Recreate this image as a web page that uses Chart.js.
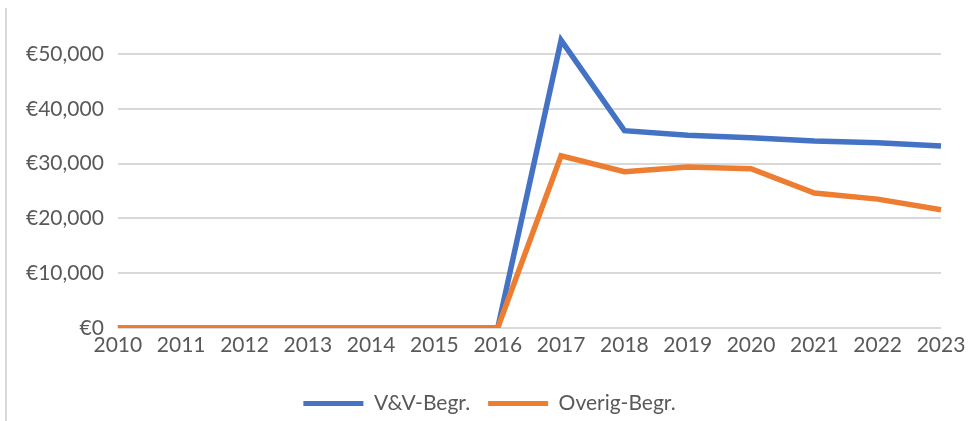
<!DOCTYPE html>
<html>
<head>
<meta charset="utf-8">
<script src="https://cdn.jsdelivr.net/npm/chart.js@4"></script>
<style>
    body { margin: 0; background: #fff; }
    #wrap { position: relative; width: 975px; height: 421px; }
    #frame { position: absolute; left: 5px; top: 8px; bottom: 0; border-left: 2px solid #d9d9d9; }
</style>
</head>
<body>
<div id="wrap">
    <div id="frame"></div>
    <canvas id="chart" width="975" height="421"></canvas>
</div>
<script>
// --- DATA ---
const years = ['2010', '2011', '2012', '2013', '2014', '2015', '2016', '2017', '2018', '2019', '2020', '2021', '2022', '2023'];
const vvBegr = [0, 0, 0, 0, 0, 0, 0, 52500, 36000, 35150, 34700, 34100, 33800, 33200];
const overigBegr = [0, 0, 0, 0, 0, 0, 0, 31400, 28500, 29350, 29050, 24600, 23500, 21550];
const yTicks = [0, 10000, 20000, 30000, 40000, 50000];

const textColor = '#595959';
const gridColor = '#d9d9d9';
const fontSpec = { family: 'Lato', size: 21 };

const defaultLabels = Chart.defaults.plugins.legend.labels.generateLabels;

// nudge the legend to where the original has it
const legendShift = {
    id: 'legendShift',
    afterLayout(chart) {
        const lg = chart.legend;
        lg.left += 13; lg.right += 13;
        lg.top += 20; lg.bottom += 20;
    }
};

const ctx = document.getElementById('chart').getContext('2d');
new Chart(ctx, {
    type: 'line',
    data: {
        labels: years,
        datasets: [
            {
                label: 'V&V-Begr.',
                data: vvBegr,
                borderColor: '#4472c4',
                backgroundColor: '#4472c4',
                borderWidth: 5.5,
                pointRadius: 0,
                tension: 0,
                order: 2
            },
            {
                label: 'Overig-Begr.',
                data: overigBegr,
                borderColor: '#ed7d31',
                backgroundColor: '#ed7d31',
                borderWidth: 5.5,
                pointRadius: 0,
                tension: 0,
                order: 1
            }
        ]
    },
    options: {
        responsive: false,
        animation: false,
        layout: { padding: { left: 12, right: 34, top: 26, bottom: 17 } },
        scales: {
            x: {
                offset: false,
                grid: { display: false },
                border: { display: false },
                ticks: { color: textColor, font: fontSpec, padding: -3, maxRotation: 0, autoSkip: false }
            },
            y: {
                min: 0,
                max: 55000,
                afterBuildTicks: axis => { axis.ticks = yTicks.map(v => ({ value: v })); },
                grid: { color: gridColor, lineWidth: 2, drawTicks: false },
                border: { display: false },
                ticks: {
                    color: textColor,
                    font: fontSpec,
                    padding: 14,
                    callback: v => '€' + v.toLocaleString('en-US')
                }
            }
        },
        plugins: {
            legend: {
                position: 'bottom',
                labels: {
                    color: textColor,
                    font: fontSpec,
                    boxWidth: 60,
                    boxHeight: 5,
                    padding: 18,
                    sort: (a, b) => a.datasetIndex - b.datasetIndex,
                    generateLabels: chart => defaultLabels(chart).map(l => ({ ...l, lineWidth: 0 }))
                }
            },
            tooltip: { enabled: false }
        }
    },
    plugins: [legendShift]
});
</script>
</body>
</html>
